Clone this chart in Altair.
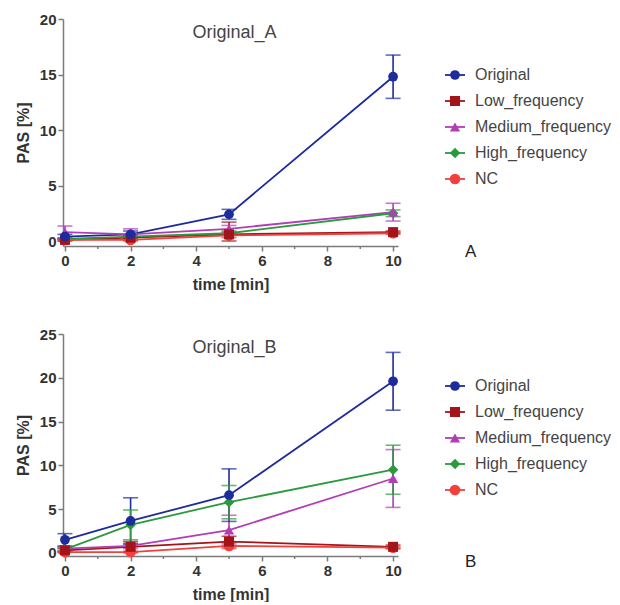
import altair as alt
import pandas as pd

times = [0, 2, 5, 10]
series = ["Original", "Low_frequency", "Medium_frequency", "High_frequency", "NC"]
colors = ["#1d2b9c", "#a3151a", "#b23db6", "#2b9a3c", "#f2403c"]
shapes = ["circle", "square", "triangle-up", "diamond", "circle"]
sizes = [95, 115, 90, 60, 45]
minor_ticks = [1, 3, 5, 7, 9]

# Panel A: mean values and error (+/-)
a_vals = [
    [0.4, 0.6, 2.4, 14.8],
    [0.1, 0.3, 0.6, 0.8],
    [0.8, 0.6, 1.1, 2.6],
    [0.2, 0.4, 0.7, 2.5],
    [0.1, 0.1, 0.5, 0.7],
]
a_errs = [
    [0.2, 0.3, 0.45, 1.95],
    [0.1, 0.2, 1.1, 0.1],
    [0.55, 0.5, 0.3, 0.8],
    [0.1, 0.2, 0.2, 0.3],
    [0.05, 0.1, 0.2, 0.1],
]
# Panel B
b_vals = [
    [1.5, 3.65, 6.6, 19.6],
    [0.3, 0.7, 1.3, 0.7],
    [0.5, 0.8, 2.6, 8.5],
    [0.4, 3.2, 5.8, 9.5],
    [0.1, 0.1, 0.8, 0.6],
]
b_errs = [
    [0.7, 2.65, 3.0, 3.3],
    [0.2, 0.6, 0.6, 0.2],
    [0.2, 0.3, 1.7, 3.3],
    [0.2, 1.7, 1.9, 2.8],
    [0.05, 0.1, 0.3, 0.1],
]


def make_df(vals, errs):
    rows = []
    for k, (s, v, e) in enumerate(zip(series, vals, errs)):
        for t, vi, ei in zip(times, v, e):
            rows.append(dict(series=s, order=k, time=t, value=vi,
                             lo=max(vi - ei, 0), hi=vi + ei))
    return pd.DataFrame(rows)


color_scale = alt.Scale(domain=series, range=colors)
shape_scale = alt.Scale(domain=series, range=shapes)
size_scale = alt.Scale(domain=series, range=sizes)

FONT = "Liberation Sans"
AXC = "#7b7b7b"
PW = 335


def panel(df, ymin, ymax, title, height):
    xs = alt.Scale(domain=[-0.06, 10.15], nice=False, zero=False)
    ys = alt.Scale(domain=[ymin, ymax], nice=False, zero=False)
    x = alt.X("time:Q", scale=xs,
              axis=alt.Axis(values=[0, 2, 4, 6, 8, 10], title="time [min]"))
    y = alt.Y("value:Q", scale=ys,
              axis=alt.Axis(values=list(range(0, ymax + 1, 5)), title="PAS [%]"))
    col = alt.Color("series:N", scale=color_scale, legend=None)
    base = alt.Chart(df)
    bars = base.mark_rule(strokeWidth=1.6).encode(
        x=alt.X("time:Q", scale=xs), y=alt.Y("lo:Q", scale=ys), y2="hi:Q", color=col)
    cap_hi = base.mark_tick(orient="horizontal", size=15, thickness=1.6).encode(
        x=alt.X("time:Q", scale=xs), y=alt.Y("hi:Q", scale=ys), color=col)
    cap_lo = base.mark_tick(orient="horizontal", size=15, thickness=1.6).encode(
        x=alt.X("time:Q", scale=xs), y=alt.Y("lo:Q", scale=ys), color=col)
    lines = base.mark_line(strokeWidth=1.8).encode(
        x=x, y=y, color=col, detail="series:N", order="time:Q")
    pts = base.mark_point(filled=True, opacity=1).encode(
        x=alt.X("time:Q", scale=xs), y=alt.Y("value:Q", scale=ys), color=col,
        shape=alt.Shape("series:N", scale=shape_scale, legend=None),
        size=alt.Size("series:N", scale=size_scale, legend=None),
        order=alt.Order("order:Q", sort="descending"))
    minor = alt.Chart(pd.DataFrame({"m": minor_ticks})).mark_rule(
        color=AXC, strokeWidth=1.5).encode(
        x=alt.X("m:Q", scale=xs), y=alt.value(height), y2=alt.value(height + 3))
    return alt.layer(minor, bars, cap_hi, cap_lo, lines, pts).properties(
        width=PW, height=height,
        title=alt.Title(title, offset=-30, anchor="middle", frame="group",
                        fontSize=18, fontWeight="normal", color="#444", font=FONT, dx=4))


def legend(top_rows, height, letter):
    ldf = pd.DataFrame({"series": series, "row": list(range(len(series)))})
    rows_span = height / 26.0
    ys = alt.Scale(domain=[-top_rows, -top_rows + rows_span], nice=False, zero=False, reverse=True)
    y = alt.Y("row:Q", scale=ys, axis=None)
    col = alt.Color("series:N", scale=color_scale, legend=None)
    b = alt.Chart(ldf)
    seg = b.mark_rule(strokeWidth=1.8).encode(x=alt.value(5), x2=alt.value(25), y=y, color=col)
    pt = b.mark_point(filled=True, opacity=1).encode(
        x=alt.value(15), y=y, color=col,
        shape=alt.Shape("series:N", scale=shape_scale, legend=None),
        size=alt.Size("series:N", scale=size_scale, legend=None))
    txt = b.mark_text(align="left", baseline="middle", fontSize=16, font=FONT,
                      color="#444").encode(x=alt.value(35), y=y, text="series:N")
    return alt.layer(seg, pt, txt).properties(
        width=140, height=height,
        title=alt.Title(letter, orient="bottom", anchor="start", frame="group",
                        offset=-2, dx=25, fontSize=17, fontWeight="normal",
                        color="#222", font=FONT))


dfA = make_df(a_vals, a_errs)
dfB = make_df(b_vals, b_errs)

pA = panel(dfA, -0.45, 20, "Original_A", 227)
pB = panel(dfB, -0.35, 25, "Original_B", 222)
lA = legend(56 / 26.0, 227, "A")
lB = legend(52 / 26.0, 222, "B")

chart = alt.concat(pA, lA, pB, lB, columns=2, spacing={"row": 88, "column": 42},
                   bounds="flush").properties(
    padding={"left": 7, "top": 4, "right": 0, "bottom": 0}
).configure_view(stroke=None).configure_axis(
    grid=False, domainColor=AXC, domainWidth=1.5, tickColor=AXC, tickWidth=1.5,
    tickSize=5, labelFont=FONT, labelFontWeight="bold", labelFontSize=15,
    labelColor="#333", labelPadding=2, titleFont=FONT, titleFontWeight="bold",
    titleFontSize=16, titleColor="#333"
).configure_axisY(titlePadding=8).configure_axisX(titlePadding=8)

chart.save("out.html", embed_options={"renderer": "svg", "actions": False})
